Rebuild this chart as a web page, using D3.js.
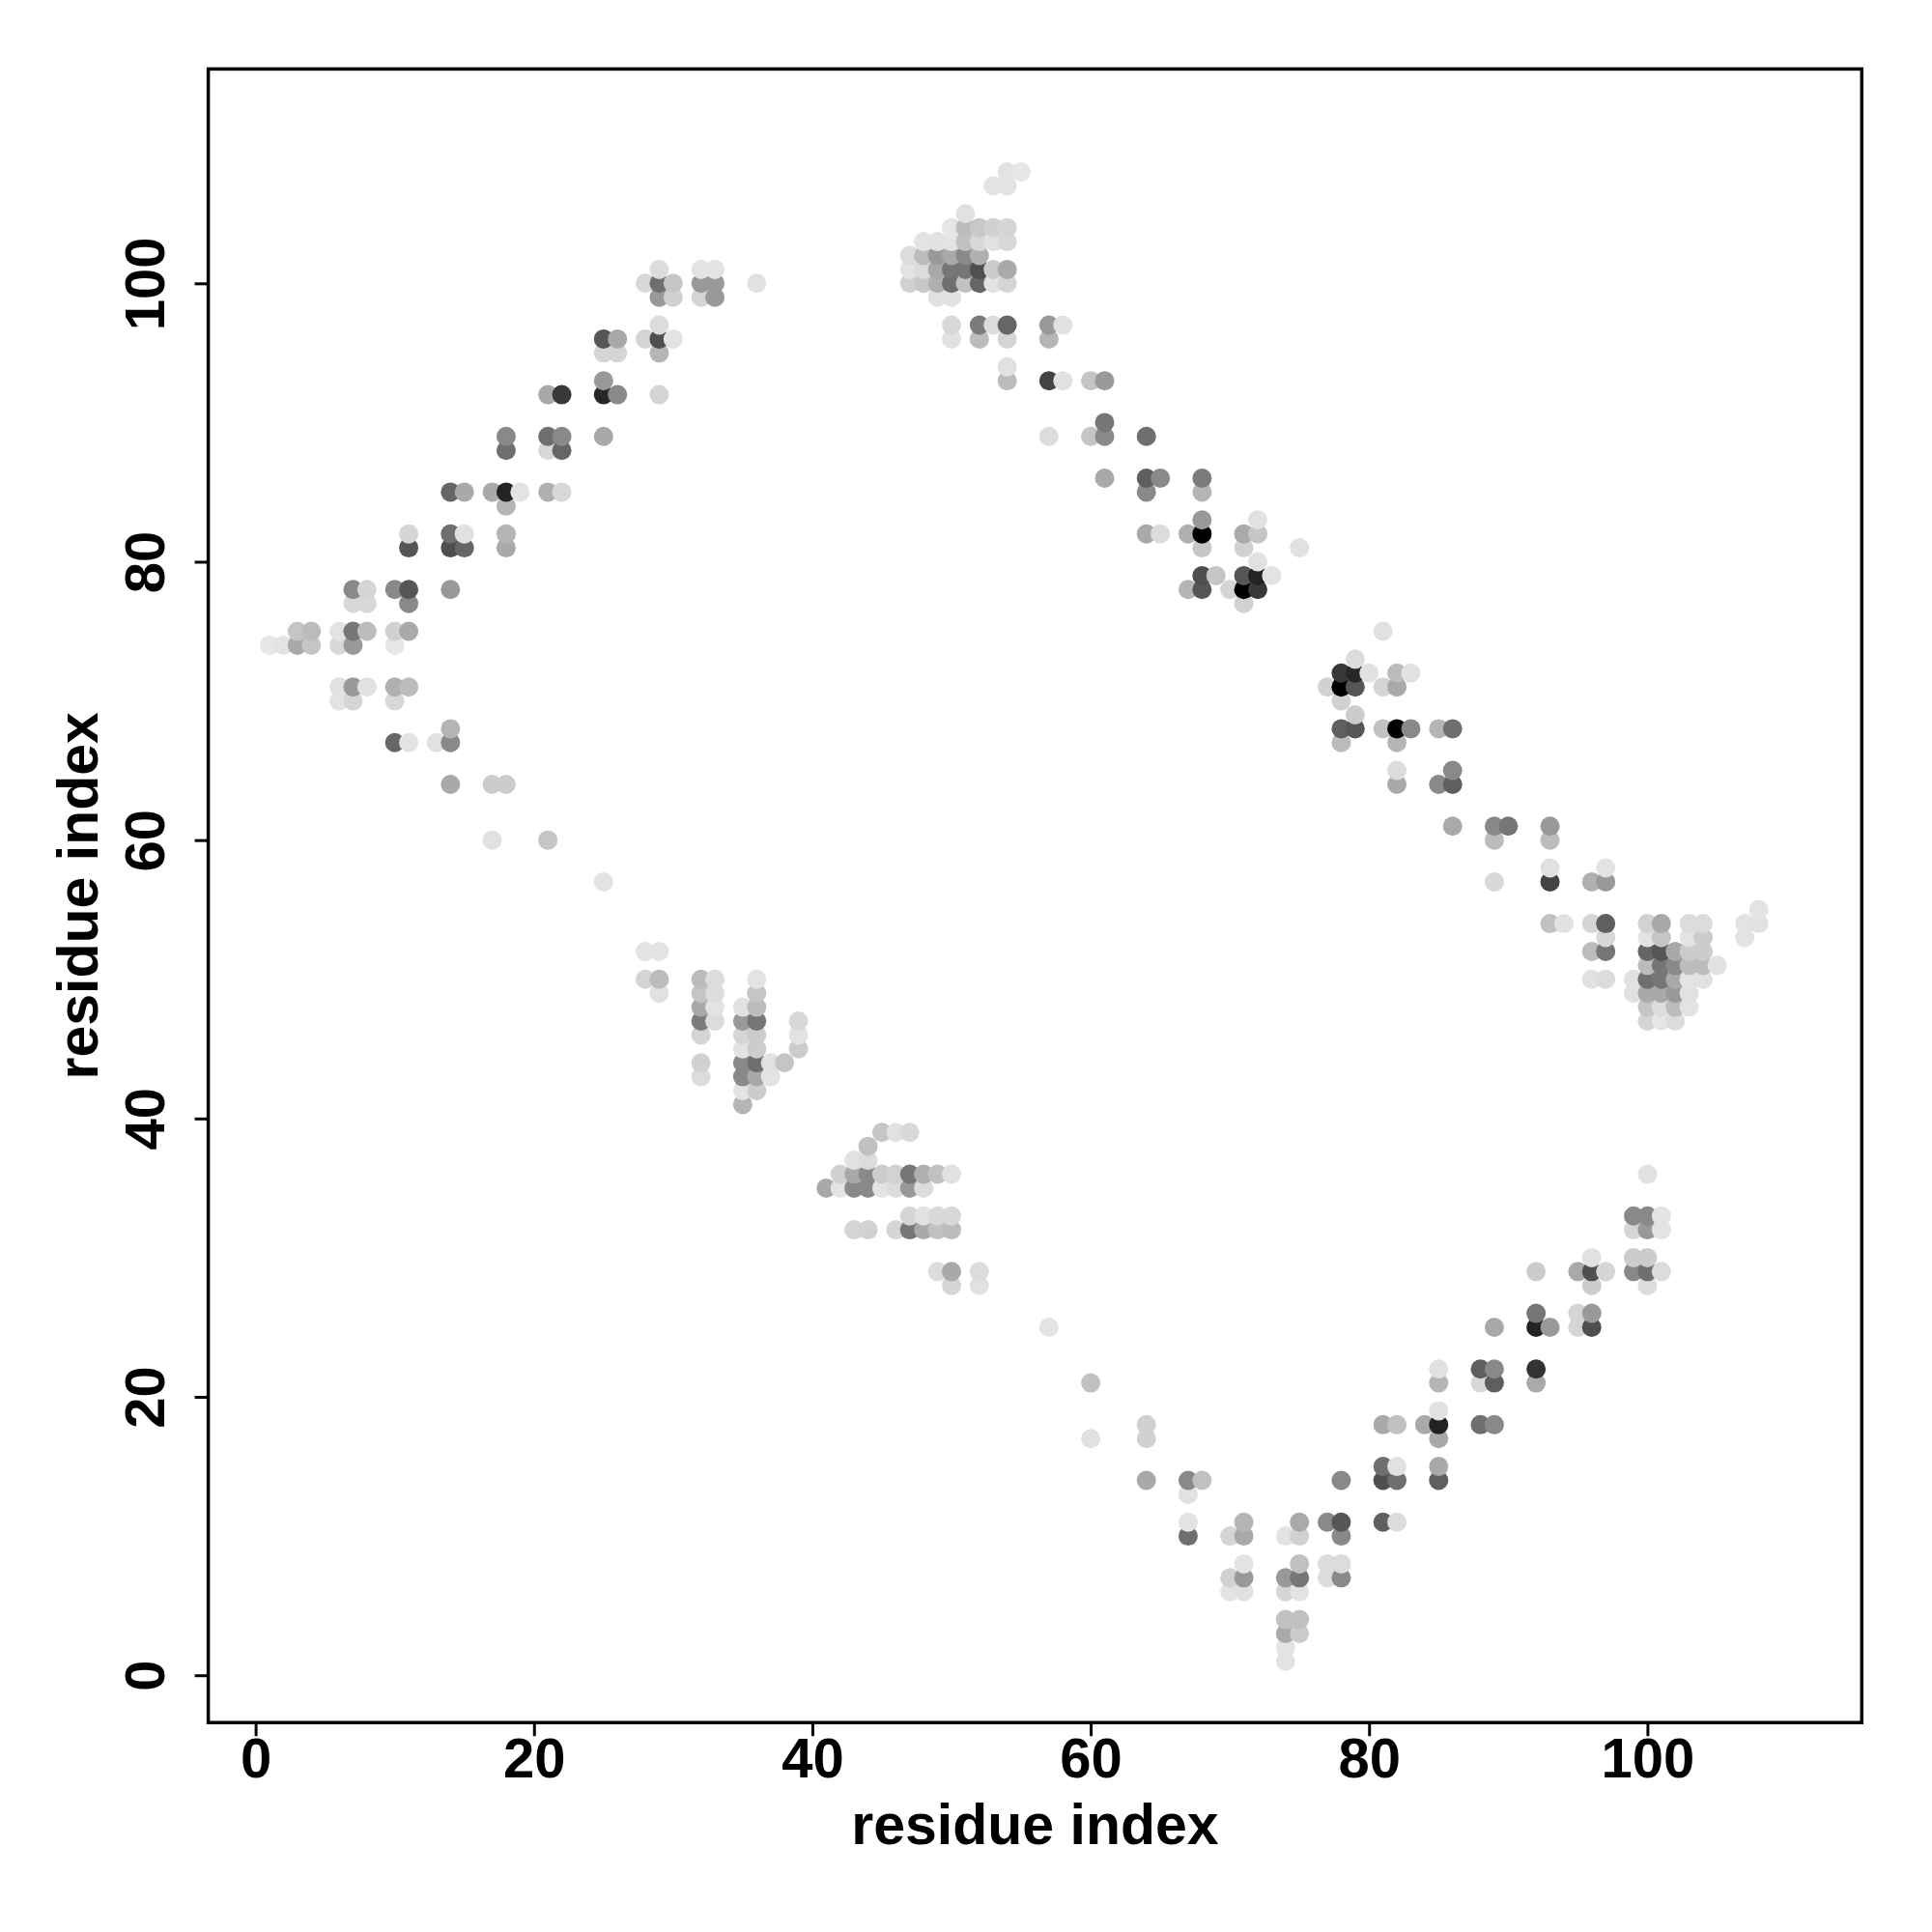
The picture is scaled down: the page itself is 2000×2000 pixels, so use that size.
<!DOCTYPE html>
<html>
<head>
<meta charset="utf-8">
<script src="https://cdn.jsdelivr.net/npm/d3@7"></script>
<style>
  html, body { margin: 0; padding: 0; background: #fff; }
  svg { display: block; }
  text { font-family: "Liberation Sans", Arial, Helvetica, sans-serif; font-weight: bold; }
</style>
</head>
<body>
<svg id="chart" width="2000" height="2000"></svg>
<script>
// [residue i, residue j, contact weight (0 = faint, 1 = black)]
const upperLeftArm = [
  [1,74,.01],[2,74,.02],[3,74,.27],[4,74,.15],[6,74,.07],[7,74,.34],[10,74,.01],
  [3,75,.15],[4,75,.19],[6,75,.02],[7,75,.49],[8,75,.19],[10,75,.10],[11,75,.27],
  [6,71,.03],[7,71,.34],[8,71,.03],[10,71,.24],[11,71,.19],
  [6,70,.02],[7,70,.08],[10,70,.07],
  [7,77,.07],[8,77,.07],[11,77,.41],
  [7,78,.41],[8,78,.08],[10,78,.41],[11,78,.63],[14,78,.34],
  [11,81,.63],[14,81,.66],[15,81,.56],[18,81,.27],
  [11,82,.08],[14,82,.52],[15,82,.03],[18,82,.22],
  [18,84,.22],
  [14,85,.56],[15,85,.27],[17,85,.27],[18,85,.85],[19,85,.02],[21,85,.24],[22,85,.07],
  [18,88,.52],[21,88,.07],[22,88,.56],
  [18,89,.41],[21,89,.52],[22,89,.41],[25,89,.27],
  [21,92,.27],[22,92,.76],[25,92,.83],[26,92,.41],[29,92,.08],
  [25,93,.34],
  [25,95,.08],[26,95,.08],[29,95,.22],
  [25,96,.63],[26,96,.27],[28,96,.08],[29,96,.66],[30,96,.02],
  [29,97,.05],
  [29,99,.34],[30,99,.10],[32,99,.08],[33,99,.34],
  [28,100,.07],[29,100,.52],[30,100,.15],[32,100,.34],[33,100,.34],[36,100,.03],
  [29,101,.05],[32,101,.02],[33,101,.02]
];
const upperLeftTail = [
  [14,68,.22],[10,67,.56],[11,67,.02],[13,67,.03],[14,67,.41],
  [14,64,.27],[17,64,.12],[18,64,.12],[17,60,.03],[21,60,.15],[25,57,.02]
];
const topCluster = [
  [54,108,.02],[55,108,.01],[53,107,.02],[54,107,.02],[51,105,.03],
  [50,104,.01],[51,104,.19],[52,104,.14],[53,104,.10],[54,104,.08],
  [48,103,.02],[49,103,.03],[50,103,.02],[51,103,.17],[52,103,.07],[53,103,.03],[54,103,.07],
  [47,102,.05],[48,102,.19],[49,102,.34],[50,102,.27],[51,102,.41],[52,102,.24],
  [47,101,.02],[48,101,.05],[49,101,.27],[50,101,.49],[51,101,.49],[52,101,.66],[53,101,.12],[54,101,.27],
  [47,100,.10],[48,100,.14],[49,100,.24],[50,100,.52],[51,100,.17],[52,100,.56],[53,100,.02],[54,100,.08],
  [49,99,.03],[50,99,.03],
  [50,97,.07],[52,97,.47],[53,97,.05],[54,97,.56],
  [50,96,.03],[52,96,.19],[54,96,.08],
  [54,94,.03],[54,93,.19]
];
const upperRightArm = [
  [57,97,.34],[58,97,.03],[57,96,.22],
  [57,93,.71],[58,93,.03],[60,93,.15],[61,93,.34],
  [61,90,.49],
  [57,89,.05],[60,89,.15],[61,89,.41],[64,89,.52],
  [61,86,.27],[64,86,.59],[65,86,.41],[68,86,.47],
  [64,85,.41],[68,85,.22],
  [68,83,.34],[72,83,.03],
  [64,82,.27],[65,82,.05],[67,82,.24],[68,82,1],[71,82,.27],[72,82,.15],
  [68,81,.15],[71,81,.10],[75,81,.03],
  [72,80,.03],
  [68,79,.66],[69,79,.15],[71,79,.63],[72,79,.85],[73,79,.02],
  [67,78,.22],[68,78,.63],[70,78,.08],[71,78,1],[72,78,.76],
  [71,77,.10],
  [81,75,.03],[79,73,.05],
  [78,72,.76],[79,72,.83],[80,72,.03],[82,72,.19],[83,72,.03],
  [77,71,.10],[78,71,1],[79,71,.63],[81,71,.08],[82,71,.27],
  [78,70,.10],[79,69,.12],
  [78,68,.59],[79,68,.63],[81,68,.17],[82,68,1],[83,68,.41],[85,68,.22],[86,68,.52],
  [78,67,.19],[82,67,.22],
  [82,65,.05],[86,65,.41],
  [82,64,.27],[85,64,.41],[86,64,.59],
  [86,61,.27],[89,61,.41],[90,61,.49],[93,61,.34],
  [89,60,.19],[93,60,.19],
  [93,58,.03],[97,58,.02],
  [89,57,.07],[93,57,.71],[96,57,.24],[97,57,.34]
];
const rightCluster = [
  [108,55,.02],
  [93,54,.17],[94,54,.03],[96,54,.08],[97,54,.59],[100,54,.10],[101,54,.27],[103,54,.05],[104,54,.05],[107,54,.02],[108,54,.03],
  [97,53,.07],[100,53,.02],[101,53,.15],[103,53,.02],[104,53,.12],[107,53,.02],
  [96,52,.19],[97,52,.49],[100,52,.56],[101,52,.63],[102,52,.27],[103,52,.12],[104,52,.12],
  [100,51,.19],[101,51,.49],[102,51,.41],[103,51,.19],[104,51,.19],[105,51,.03],
  [96,50,.03],[97,50,.05],[99,50,.03],[100,50,.52],[101,50,.49],[102,50,.27],[103,50,.02],[104,50,.03],
  [99,49,.03],[100,49,.27],[101,49,.27],[102,49,.34],[103,49,.03],
  [100,48,.15],[101,48,.05],[102,48,.19],[103,48,.02],
  [100,47,.08],[101,47,.01],[102,47,.05]
];
const lowerLeftArm = [
  [28,52,.02],[29,52,.02],
  [28,50,.08],[29,50,.19],[32,50,.19],[33,50,.05],[36,50,.02],
  [29,49,.03],[32,49,.15],[33,49,.05],[36,49,.15],
  [32,48,.27],[33,48,.02],[35,48,.03],[36,48,.19],
  [32,47,.47],[33,47,.05],[35,47,.34],[36,47,.49],[39,47,.07],
  [32,46,.08],[35,46,.08],[36,46,.12],[39,46,.02],
  [35,45,.02],[36,45,.12],[39,45,.12],
  [32,44,.10],[35,44,.41],[36,44,.52],[37,44,.03],[38,44,.15],
  [32,43,.05],[35,43,.41],[36,43,.27],[37,43,.02],
  [35,42,.02],[36,42,.12],
  [35,41,.22],
  [45,39,.15],[46,39,.03],[47,39,.07],
  [44,38,.17],
  [43,37,.03],[44,37,.05],
  [42,36,.10],[43,36,.27],[44,36,.41],[45,36,.12],[46,36,.10],[47,36,.49],[48,36,.24],[49,36,.17],[50,36,.03],
  [41,35,.27],[42,35,.02],[43,35,.41],[44,35,.41],[45,35,.02],[46,35,.05],[47,35,.34],[48,35,.05],
  [47,33,.08],[48,33,.03],[49,33,.07],[50,33,.07],
  [43,32,.08],[44,32,.10],[46,32,.08],[47,32,.49],[48,32,.27],[49,32,.17],[50,32,.19],
  [49,29,.05],[50,29,.27],[52,29,.05],
  [50,28,.08],[52,28,.03]
];
const bottomArm = [
  [57,25,.02],[60,21,.17],[64,18,.10],[60,17,.03],[64,17,.10],
  [64,14,.27],[67,14,.41],[68,14,.17],[67,13,.03],
  [67,11,.02],[71,11,.22],[75,11,.27],
  [67,10,.52],[70,10,.08],[71,10,.27],[74,10,.02],[75,10,.10],
  [71,8,.02],[75,8,.17],
  [70,7,.10],[71,7,.34],[74,7,.34],[75,7,.49],
  [70,6,.02],[71,6,.03],[74,6,.08],[75,6,.02],
  [74,4,.17],[75,4,.17],[74,3,.27],[75,3,.12],[74,2,.02],[74,1,.02]
];
const lowerRightArm = [
  [77,11,.41],[78,11,.63],[81,11,.59],[82,11,.05],
  [78,10,.41],[77,8,.05],[78,8,.05],[77,7,.05],[78,7,.41],
  [78,14,.41],[81,14,.66],[82,14,.52],[85,14,.59],
  [81,15,.52],[82,15,.03],[85,15,.27],
  [85,17,.27],
  [81,18,.27],[82,18,.17],[84,18,.27],[85,18,.85],[88,18,.52],[89,18,.41],
  [85,19,.03],
  [85,21,.22],[88,21,.07],[89,21,.59],[92,21,.27],
  [85,22,.03],[88,22,.59],[89,22,.41],[92,22,.78],
  [89,25,.27],[92,25,.85],[93,25,.34],[95,25,.08],[96,25,.66],
  [92,26,.49],[95,26,.08],[96,26,.34],
  [96,28,.12],[100,28,.05],
  [92,29,.12],[95,29,.27],[96,29,.66],[97,29,.08],[99,29,.41],[100,29,.52],[101,29,.05],
  [96,30,.03],[99,30,.12],[100,30,.12],
  [99,32,.08],[100,32,.34],[101,32,.02],
  [99,33,.41],[100,33,.41],[101,33,.02],
  [100,36,.03]
];
const xTicks = [0, 20, 40, 60, 80, 100];
const yTicks = [0, 20, 40, 60, 80, 100];
const xLabel = "residue index";
const yLabel = "residue index";

const points = [].concat(upperLeftArm, upperLeftTail, topCluster, upperRightArm,
  rightCluster, lowerLeftArm, bottomArm, lowerRightArm)
  .slice().sort((a, b) => a[0] - b[0] || a[1] - b[1]);

const L = 215.6, R = 1927.3, T = 71.4, B = 1783.2;
const x = d3.scaleLinear().domain([-3.4, 115.4]).range([L, R]);
const y = d3.scaleLinear().domain([-3.4, 115.4]).range([B, T]);
const shade = d3.scaleLinear().domain([0, 1]).range([232, 0]).clamp(true);

const svg = d3.select("#chart");

svg.append("g").selectAll("circle").data(points).join("circle")
  .attr("cx", d => x(d[0]))
  .attr("cy", d => y(d[1]))
  .attr("r", 10)
  .attr("fill", d => { const g = Math.round(shade(d[2])); return d3.rgb(g, g, g).toString(); });

svg.append("rect")
  .attr("x", L).attr("y", T).attr("width", R - L).attr("height", B - T)
  .attr("fill", "none").attr("stroke", "#000").attr("stroke-width", 3.5);

const fs = 58;
const gx = svg.append("g").attr("transform", `translate(0,${B})`)
  .call(d3.axisBottom(x).tickValues(xTicks).tickSize(14).tickFormat(d3.format("d")));
gx.select(".domain").remove();
gx.selectAll("line").attr("stroke", "#000").attr("stroke-width", 3);
gx.selectAll("text").attr("y", 57).attr("dy", null)
  .attr("font-size", fs).attr("fill", "#000");

const gy = svg.append("g").attr("transform", `translate(${L},0)`)
  .call(d3.axisLeft(y).tickValues(yTicks).tickSize(14).tickFormat(d3.format("d")));
gy.select(".domain").remove();
gy.selectAll("line").attr("stroke", "#000").attr("stroke-width", 3);
gy.selectAll("text")
  .attr("x", 0).attr("y", -(L - 170)).attr("dy", null)
  .attr("transform", "rotate(-90)")
  .attr("text-anchor", "middle")
  .attr("font-size", fs).attr("fill", "#000");

svg.append("text")
  .attr("x", (L + R) / 2).attr("y", 1909)
  .attr("text-anchor", "middle").attr("font-size", 59).attr("fill", "#000")
  .text(xLabel);

svg.append("text")
  .attr("transform", `translate(101,${(T + B) / 2}) rotate(-90)`)
  .attr("text-anchor", "middle").attr("font-size", 59).attr("fill", "#000")
  .text(yLabel);
</script>
</body>
</html>
